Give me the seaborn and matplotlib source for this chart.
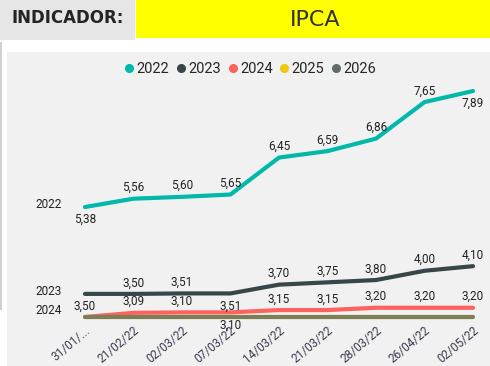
import matplotlib
matplotlib.use('Agg')
import matplotlib.pyplot as plt
import matplotlib.patches as mpatches
from matplotlib.lines import Line2D
import pandas as pd
import seaborn as sns

sns.set_theme(style='white')
plt.rcParams['font.family'] = ['Roboto', 'DejaVu Sans']

# Focus expectations for IPCA, by survey date
DATES = ['31/01/...', '21/02/22', '02/03/22', '07/03/22', '14/03/22',
         '21/03/22', '28/03/22', '26/04/22', '02/05/22']
IPCA_2022 = [5.38, 5.56, 5.60, 5.65, 6.45, 6.59, 6.86, 7.65, 7.89]
IPCA_2023 = [3.50, 3.50, 3.51, 3.51, 3.70, 3.75, 3.80, 4.00, 4.10]
IPCA_2024 = [3.00, 3.09, 3.10, 3.10, 3.15, 3.15, 3.20, 3.20, 3.20]
IPCA_2025 = [3.00, 3.00, 3.00, 3.00, 3.00, 3.00, 3.00, 3.00, 3.00]
IPCA_2026 = [3.00, 3.00, 3.00, 3.00, 3.00, 3.00, 3.00, 3.00, 3.00]
YEARS = ['2022', '2023', '2024', '2025', '2026']

COLORS = {
    '2022': '#01B8AA',
    '2023': '#374649',
    '2024': '#FD625E',
    '2025': '#F2C80F',
    '2026': '#5F6B6D',
}


def fmt(v):
    return f'{v:.2f}'.replace('.', ',')


def main():
    series = dict(zip(YEARS, [IPCA_2022, IPCA_2023, IPCA_2024, IPCA_2025, IPCA_2026]))
    df = pd.concat([
        pd.DataFrame({'data': DATES, 'valor': vals, 'ano': year})
        for year, vals in series.items()
    ], ignore_index=True)

    W, H = 490, 366
    fig = plt.figure(figsize=(W / 100, H / 100), dpi=100)
    fig.patch.set_facecolor('white')

    def px_rect(x0, y0, x1, y1, color):
        fig.add_artist(mpatches.Rectangle((x0 / W, 1 - y1 / H), (x1 - x0) / W, (y1 - y0) / H,
                                          transform=fig.transFigure, color=color, lw=0, zorder=0))

    # header boxes and chart panel
    px_rect(0, 0, 135, 40, '#E6E6E6')
    px_rect(136, 0, 490, 38, '#FFFF00')
    px_rect(7, 52, 490, 366, '#F1F1F1')
    px_rect(0, 42, 2, 310, '#D0D0D0')
    fig.text(68 / W, 1 - 18 / H, 'INDICADOR:', ha='center', va='center', fontsize=12,
             fontweight='bold', color='#252423', family=['DejaVu Sans'])
    fig.text(315 / W, 1 - 20 / H, 'IPCA', ha='center', va='center', fontsize=16,
             color='#333333', family=['DejaVu Sans'])

    ax = fig.add_axes([60 / W, 1 - 320 / H, 425 / W, 235 / H])
    ax.set_facecolor('none')
    sns.lineplot(data=df, x='data', y='valor', hue='ano', hue_order=YEARS,
                 palette=COLORS, linewidth=3, sort=False, legend=False, ax=ax)
    ax.lines[-1].set_alpha(0.8)

    ax.set_xlim(-0.515, 8.247)
    ax.set_ylim(2.935, 8.02)
    for s in ax.spines.values():
        s.set_visible(False)
    ax.set_yticks([])
    ax.set_xlabel('')
    ax.set_ylabel('')
    ax.set_xticks(range(len(DATES)))
    ax.set_xticklabels(DATES, rotation=40, ha='right', rotation_mode='anchor',
                       fontsize=8.5, color='#3a3a52')
    ax.tick_params(axis='x', length=0, pad=3)

    # data labels: which points sit below the line
    below = {'2022': [0, 8], '2023': [0, 3], '2024': [3]}
    skip = {'2024': [0]}
    for year in ['2022', '2023', '2024']:
        for i, v in enumerate(series[year]):
            if i in skip.get(year, []):
                continue
            dy = -9 if i in below[year] else 8
            ax.annotate(fmt(v), (i, v), xytext=(0, dy), textcoords='offset points',
                        ha='center', va='center', fontsize=8.5, color='#222222')

    # series names at the start of each line
    name_dy = {'2022': 2, '2023': 2, '2024': 5}
    for year, dy in name_dy.items():
        ax.annotate(year, (-0.47, series[year][0]), xytext=(0, dy), textcoords='offset points',
                    ha='right', va='center', fontsize=8.5, color='#222222', annotation_clip=False)

    handles = [Line2D([], [], marker='o', ls='', color=COLORS[y], markersize=5.5) for y in YEARS]
    fig.legend(handles, YEARS, loc='center', bbox_to_anchor=(249 / W, 1 - 69 / H), ncol=5,
               frameon=False, fontsize=10.5, handletextpad=0.0, columnspacing=0.3,
               borderaxespad=0, handlelength=1)

    fig.savefig('out.png', dpi=100)
    plt.close(fig)


if __name__ == '__main__':
    main()
